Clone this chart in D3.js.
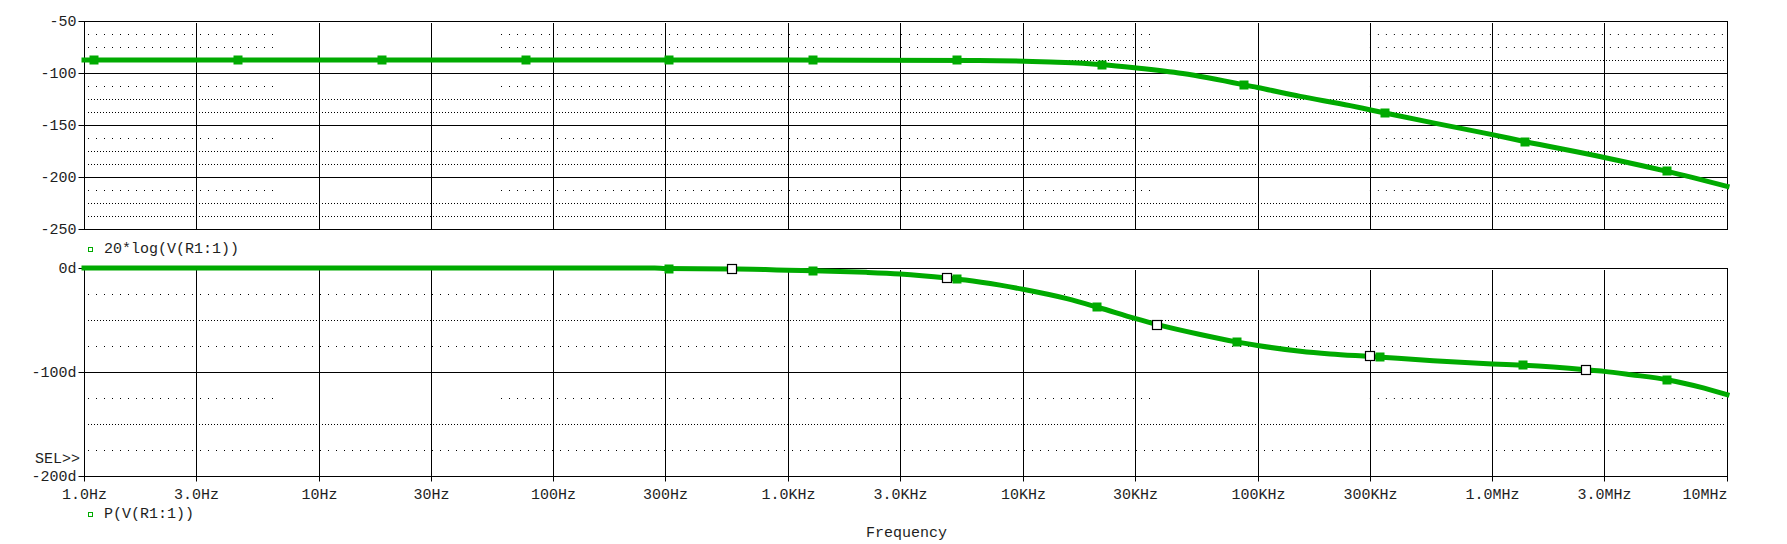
<!DOCTYPE html>
<html>
<head>
<meta charset="utf-8">
<script src="https://cdn.jsdelivr.net/npm/d3@7/dist/d3.min.js"></script>
<style>
body { margin: 0; background: #fff; }
text { font-family: "Liberation Mono", "Courier New", monospace; font-size: 15px; fill: #1e1e1e; }
</style>
</head>
<body>
<div id="chart"></div>
<script>
// x axis (log frequency)
var freqTicks = [1, 3, 10, 30, 100, 300, 1e3, 3e3, 1e4, 3e4, 1e5, 3e5, 1e6, 3e6, 1e7];
var freqLabels = ["1.0Hz", "3.0Hz", "10Hz", "30Hz", "100Hz", "300Hz", "1.0KHz", "3.0KHz",
    "10KHz", "30KHz", "100KHz", "300KHz", "1.0MHz", "3.0MHz", "10MHz"];

// top plot: 20*log(V(R1:1))
var magTicks = [-50, -100, -150, -200, -250];
var magMinorDense = [-87.5, -125, -137.5, -175, -187.5, -225, -237.5];
var magMinorSparse = [];
var magMinorGapped = [-62.5, -75, -112.5, -162.5, -212.5];
var magFreq = [1, 1000, 6500, 13100, 18000, 22000, 30000, 48000, 100000, 152000,
    248000, 300000, 560000, 1e6, 1.37e6, 3e6, 5.56e6, 1e7];
var magDb = [-87.6, -87.6, -87.9, -89.4, -90.6, -92, -95, -100.5, -114, -122.5,
    -131.4, -135.3, -148, -159.3, -165.8, -181.2, -194.6, -209];
var magMarkerFreq = [1.106, 4.52, 18.55, 76.2, 312, 1282, 5260, 21700, 87900, 349000, 1.38e6, 5.54e6];

// bottom plot: P(V(R1:1))
var phaseTicks = [0, -100, -200];
var phaseLabels = ["0d", "-100d", "-200d"];
var phaseMinorDense = [-50, -150];
var phaseMinorSparse = [-25, -75, -175];
var phaseMinorGapped = [-125];
var phaseFreq = [1, 270, 300, 570, 800, 1000, 1280, 2150, 3000, 4750, 5700, 8000, 10000, 15400,
    21000, 30000, 37500, 57000, 81000, 100000, 152000, 204000, 300000, 560000, 1e6, 1.36e6,
    2.5e6, 3e6, 3.9e6, 5.56e6, 8e6, 1e7];
var phaseDeg = [0, 0, -0.6, -1, -1.5, -2.2, -2.6, -4.2, -5.8, -9.6, -11.5, -16.5, -20.5, -29.5,
    -38, -48.5, -54.5, -64, -71, -74.5, -80, -82.6, -85, -89.1, -92.3, -93.6,
    -97.8, -99.4, -102.6, -107.4, -115.5, -121.8];
var phaseMarkerFreq = [312, 1282, 5228, 20650, 81500, 333000, 1.357e6, 5.54e6];
var phaseCursorFreq = [575, 4750, 37300, 300000, 2.5e6];

// frequency spans where the "gapped" minor grid rows are drawn
var gappedSpans = [[1, 6.45], [59.8, 34800], [301000, 1e7]];

var width = 1787, height = 544;
var green = "#00aa00";

var x = d3.scaleLog().domain([1, 1e7]).range([84, 1727]);
var yMag = d3.scaleLinear().domain([-50, -250]).range([21, 229]);
var yPh = d3.scaleLinear().domain([0, -200]).range([268, 476]);

var crisp = function (v) { return Math.round(v) + 0.5; };

var svg = d3.select('#chart')
    .append('svg')
    .attr('width', width)
    .attr('height', height)
    .style('background', '#fff');

// value at frequency f, linear in log(f)
var interp = function (fs, vs, f) {
    var lf = Math.log10(f);
    for (var i = 1; i < fs.length; i++) {
        if (f <= fs[i]) {
            var a = Math.log10(fs[i - 1]), b = Math.log10(fs[i]);
            return vs[i - 1] + (vs[i] - vs[i - 1]) * (lf - a) / (b - a);
        }
    }
    return vs[vs.length - 1];
};

var drawPanel = function (y, ticks, labels, dense, sparse, gapped) {
    var g = svg.append('g');
    var y0 = y.range()[0], y1 = y.range()[1];
    var x0 = x.range()[0], x1 = x.range()[1];

    // dotted minor rows
    g.selectAll('line.dense')
        .data(dense)
        .enter().append('line')
        .attr('x1', x0 + 4).attr('x2', x1 - 3)
        .attr('y1', function (d) { return crisp(y(d)); })
        .attr('y2', function (d) { return crisp(y(d)); })
        .attr('stroke', '#000')
        .attr('stroke-dasharray', '1,2');

    g.selectAll('line.sparse')
        .data(sparse)
        .enter().append('line')
        .attr('x1', x0 + 4).attr('x2', x1 - 3)
        .attr('y1', function (d) { return crisp(y(d)); })
        .attr('y2', function (d) { return crisp(y(d)); })
        .attr('stroke', '#000')
        .attr('stroke-dasharray', '1,7');

    gapped.forEach(function (v) {
        g.selectAll(null)
            .data(gappedSpans)
            .enter().append('line')
            .attr('x1', function (s) { return Math.max(x(s[0]), x0 + 4); })
            .attr('x2', function (s) { return Math.min(x(s[1]), x1 - 3); })
            .attr('y1', crisp(y(v)))
            .attr('y2', crisp(y(v)))
            .attr('stroke', '#000')
            .attr('stroke-dasharray', '1,7');
    });

    // major grid
    g.selectAll('line.vgrid')
        .data(freqTicks)
        .enter().append('line')
        .attr('x1', function (d) { return crisp(x(d)); })
        .attr('x2', function (d) { return crisp(x(d)); })
        .attr('y1', y0 + 2).attr('y2', y1)
        .attr('stroke', '#000');

    g.selectAll('line.hgrid')
        .data(ticks)
        .enter().append('line')
        .attr('x1', x0).attr('x2', x1)
        .attr('y1', function (d) { return crisp(y(d)); })
        .attr('y2', function (d) { return crisp(y(d)); })
        .attr('stroke', '#000');

    // frame
    g.append('rect')
        .attr('x', crisp(x0)).attr('y', crisp(y0))
        .attr('width', Math.round(x1 - x0)).attr('height', Math.round(y1 - y0))
        .attr('fill', 'none')
        .attr('stroke', '#000');

    // y axis ticks + labels
    var axis = d3.axisLeft(y)
        .tickValues(ticks)
        .tickSize(6)
        .tickPadding(2)
        .tickFormat(function (d, i) { return labels ? labels[i] : d; });

    var ag = svg.append('g')
        .attr('transform', 'translate(' + crisp(x0) + ',0.5)')
        .call(axis)
        .attr('font-family', null)
        .attr('font-size', null)
        .style('color', '#000');
    ag.select('.domain').remove();
    ag.selectAll('.tick').attr('transform', function (d) { return 'translate(0,' + Math.round(y(d)) + ')'; });
    ag.selectAll('text').attr('dy', '0.33em');
};

drawPanel(yMag, magTicks, null, magMinorDense, magMinorSparse, magMinorGapped);
drawPanel(yPh, phaseTicks, phaseLabels, phaseMinorDense, phaseMinorSparse, phaseMinorGapped);

// x axis under bottom panel
var xAxis = d3.axisBottom(x)
    .tickValues(freqTicks)
    .tickSize(5)
    .tickPadding(7)
    .tickFormat(function (d, i) { return freqLabels[i]; });

var xg = svg.append('g')
    .attr('transform', 'translate(0.5,' + crisp(yPh.range()[1]) + ')')
    .call(xAxis)
    .attr('font-family', null)
    .attr('font-size', null)
    .style('color', '#000');
xg.select('.domain').remove();
xg.selectAll('.tick').attr('transform', function (d) { return 'translate(' + Math.round(x(d)) + ',0)'; });
xg.selectAll('text')
    .attr('text-anchor', function (d, i) { return i === freqTicks.length - 1 ? 'end' : 'middle'; });

// traces
var drawTrace = function (fs, vs, y, markers) {
    var pts = fs.map(function (f, i) { return [f, vs[i]]; });
    var line = d3.line()
        .x(function (d) { return x(d[0]); })
        .y(function (d) { return y(d[1]); })
        .curve(d3.curveMonotoneX);

    svg.append('path')
        .datum(pts)
        .attr('d', line)
        .attr('fill', 'none')
        .attr('stroke', green)
        .attr('stroke-width', 5)
        .attr('stroke-linecap', 'square');

    svg.selectAll(null)
        .data(markers)
        .enter().append('rect')
        .attr('x', function (f) { return Math.round(x(f)) - 4.5; })
        .attr('y', function (f) { return Math.round(y(interp(fs, vs, f))) - 4.5; })
        .attr('width', 9).attr('height', 9)
        .attr('fill', green);
};

drawTrace(magFreq, magDb, yMag, magMarkerFreq);
drawTrace(phaseFreq, phaseDeg, yPh, phaseMarkerFreq);

svg.selectAll('rect.cursor')
    .data(phaseCursorFreq)
    .enter().append('rect')
    .attr('class', 'cursor')
    .attr('x', function (f) { return Math.round(x(f)) - 4.5; })
    .attr('y', function (f) { return Math.round(yPh(interp(phaseFreq, phaseDeg, f))) - 4.5; })
    .attr('width', 9).attr('height', 9)
    .attr('fill', '#fff')
    .attr('stroke', '#000')
    .attr('stroke-width', 1.2);

// legends and captions
var legend = [
    {label: "20*log(V(R1:1))", y: 247.5},
    {label: "P(V(R1:1))", y: 512.5}
];

svg.selectAll('rect.legend')
    .data(legend)
    .enter().append('rect')
    .attr('x', 88.5).attr('y', function (d) { return d.y; })
    .attr('width', 4).attr('height', 4)
    .attr('fill', '#fff')
    .attr('stroke', green);

svg.selectAll('text.legend')
    .data(legend)
    .enter().append('text')
    .attr('x', 104)
    .attr('y', function (d) { return d.y + 5.5; })
    .text(function (d) { return d.label; });

svg.append('text')
    .attr('x', 80).attr('y', 463)
    .attr('text-anchor', 'end')
    .text("SEL>>");

svg.append('text')
    .attr('x', (x.range()[0] + x.range()[1]) / 2 + 1)
    .attr('y', 537)
    .attr('text-anchor', 'middle')
    .text("Frequency");
</script>
</body>
</html>
